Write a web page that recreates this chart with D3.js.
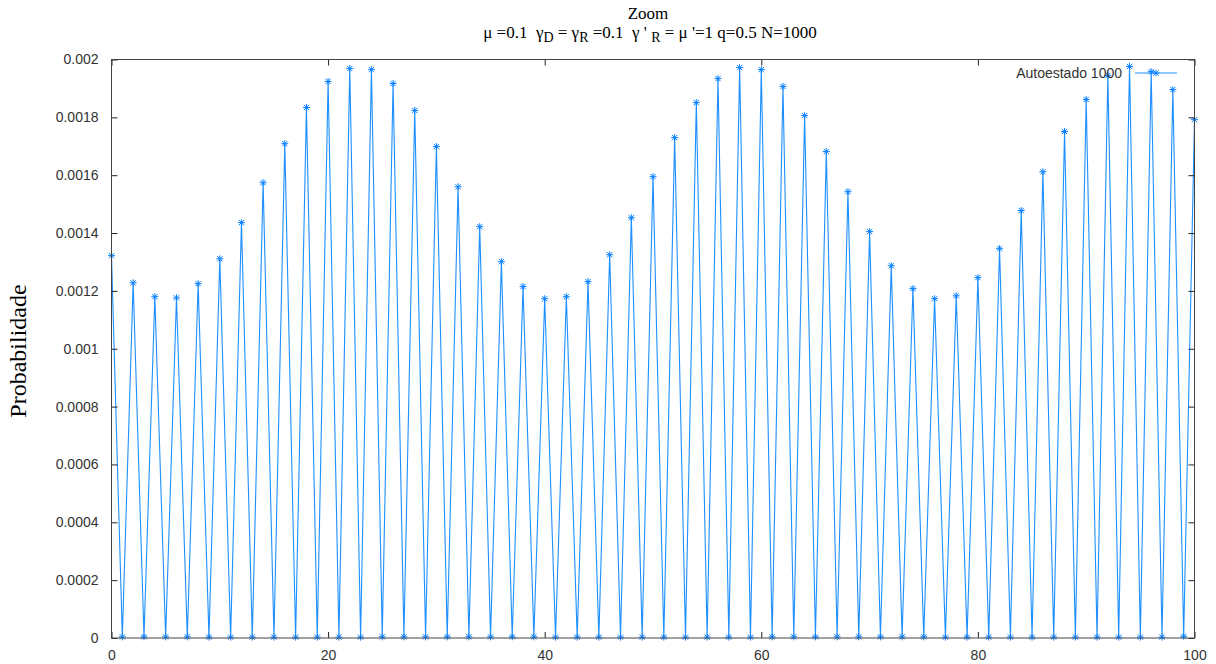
<!DOCTYPE html>
<html>
<head>
<meta charset="utf-8">
<script src="https://cdn.jsdelivr.net/npm/d3@7"></script>
<style>
  html, body { margin: 0; padding: 0; background: #fff; }
  svg { display: block; }
  text { white-space: pre; }
</style>
</head>
<body>
<svg id="chart" width="1216" height="664"></svg>
<script>
// Probability of the 1000th eigenstate over sites 0..100
const sites = d3.range(0, 101);
const evenPeaks = [
  0.001322, 0.001228, 0.001180, 0.001176, 0.001225, 0.001311, 0.001436, 0.001574,
  0.001709, 0.001834, 0.001924, 0.001969, 0.001965, 0.001917, 0.001824, 0.001699,
  0.001560, 0.001422, 0.001301, 0.001215, 0.001173, 0.001180, 0.001232, 0.001325,
  0.001453, 0.001595, 0.001730, 0.001851, 0.001934, 0.001972, 0.001965, 0.001907,
  0.001806, 0.001682, 0.001543, 0.001405, 0.001287, 0.001208, 0.001173, 0.001183,
  0.001246, 0.001346, 0.001478, 0.001612, 0.001751, 0.001862, 0.001945, 0.001976,
  0.001958, 0.001896, 0.001792
];
const oddValues = [
  0.000004, 0.000004, 0.000004, 0.000004, 0.000003, 0.000003, 0.000003, 0.000003,
  0.000003, 0.000003, 0.000003, 0.000003, 0.000004, 0.000004, 0.000004, 0.000004,
  0.000004, 0.000004, 0.000004, 0.000004, 0.000003, 0.000003, 0.000003, 0.000003,
  0.000003, 0.000003, 0.000003, 0.000003, 0.000003, 0.000003, 0.000004, 0.000004,
  0.000004, 0.000004, 0.000004, 0.000004, 0.000004, 0.000004, 0.000003, 0.000003,
  0.000003, 0.000003, 0.000003, 0.000003, 0.000003, 0.000003, 0.000003, 0.000003,
  0.000003, 0.000006
];
const xTicks = [0, 20, 40, 60, 80, 100];
const yTicks = [0, 0.0002, 0.0004, 0.0006, 0.0008, 0.001, 0.0012, 0.0014, 0.0016, 0.0018, 0.002];
const seriesName = "Autoestado 1000";

const probability = sites.map(i => i % 2 === 0 ? evenPeaks[i / 2] : oddValues[(i - 1) / 2]);
const data = sites.map((s, i) => ({ x: s, y: probability[i] }));

const svg = d3.select("#chart");
const plotLeft = 111.5, plotRight = 1194.5, plotTop = 59.5, plotBottom = 638;
const lineColor = "#1e8fff";
const pointColor = "#0a80ff";
const frameColor = "#444";
const labelFont = "'Liberation Sans', Arial, sans-serif";
const serifFont = "'Liberation Serif', 'Times New Roman', serif";

const x = d3.scaleLinear().domain([0, 100]).range([plotLeft, plotRight]);
const y = d3.scaleLinear().domain([0, 0.002]).range([plotBottom, plotTop]);

// Data line
svg.append("path")
  .datum(data)
  .attr("fill", "none")
  .attr("stroke", lineColor)
  .attr("stroke-width", 1.1)
  .attr("d", d3.line().x(d => x(d.x)).y(d => y(d.y)));

// Asterisk markers
function star(g, cx, cy) {
  const r = 3.5, q = r * 0.75;
  g.append("path")
    .attr("d", `M${cx - r},${cy}H${cx + r}M${cx},${cy - r}V${cy + r}` +
               `M${cx - q},${cy - q}L${cx + q},${cy + q}` +
               `M${cx - q},${cy + q}L${cx + q},${cy - q}`)
    .attr("stroke", pointColor)
    .attr("stroke-width", 1)
    .attr("fill", "none");
}
const marks = svg.append("g");
data.forEach(d => star(marks, x(d.x), y(d.y)));

// Axes with inward ticks, mirrored on top/right
const fmt = d => d === 0 ? "0" : String(+d.toPrecision(2));
const xAxis = svg.append("g").attr("transform", `translate(0,${plotBottom})`)
  .call(d3.axisBottom(x).tickValues(xTicks).tickSizeInner(-6).tickSizeOuter(0).tickPadding(12).tickFormat(d => d));
const xAxisTop = svg.append("g").attr("transform", `translate(0,${plotTop})`)
  .call(d3.axisTop(x).tickValues(xTicks).tickSizeInner(-6).tickSizeOuter(0).tickFormat(""));
const yAxis = svg.append("g").attr("transform", `translate(${plotLeft},0)`)
  .call(d3.axisLeft(y).tickValues(yTicks).tickSizeInner(-6).tickSizeOuter(0).tickPadding(13).tickFormat(fmt));
const yAxisRight = svg.append("g").attr("transform", `translate(${plotRight},0)`)
  .call(d3.axisRight(y).tickValues(yTicks).tickSizeInner(-6).tickSizeOuter(0).tickFormat(""));

[xAxis, xAxisTop, yAxis, yAxisRight].forEach(a => {
  a.select(".domain").remove();
  a.selectAll(".tick line").attr("stroke", "#222");
  a.selectAll("text").attr("font-family", labelFont).attr("font-size", 14).attr("fill", "#333");
});

// Plot frame
svg.append("rect")
  .attr("x", plotLeft).attr("y", plotTop)
  .attr("width", plotRight - plotLeft).attr("height", plotBottom - plotTop)
  .attr("fill", "none").attr("stroke", frameColor).attr("stroke-width", 1);

// Title
svg.append("text")
  .attr("x", 648).attr("y", 19)
  .attr("text-anchor", "middle")
  .attr("font-family", serifFont).attr("font-size", 17).attr("fill", "#000")
  .text("Zoom");

const sub = svg.append("text")
  .attr("x", 650).attr("y", 38)
  .attr("text-anchor", "middle")
  .attr("font-family", serifFont).attr("font-size", 17).attr("fill", "#000");
const parts = [
  ["μ =0.1  γ", false], ["D", true], [" = γ", false], ["R", true], [" =0.1  γ ' ", false], ["R", true],
  [" = μ '=1 q=0.5 N=1000", false]
];
let lowered = false;
parts.forEach(([t, isSub]) => {
  const ts = sub.append("tspan").text(t);
  if (isSub) { ts.attr("dy", 4).attr("font-size", 14); lowered = true; }
  else if (lowered) { ts.attr("dy", -4); lowered = false; }
});

// Y label
svg.append("text")
  .attr("transform", "translate(26,351) rotate(-90)")
  .attr("text-anchor", "middle")
  .attr("font-family", serifFont).attr("font-size", 24).attr("fill", "#000")
  .text("Probabilidade");

// Legend
svg.append("text")
  .attr("x", 1122).attr("y", 78)
  .attr("text-anchor", "end")
  .attr("font-family", labelFont).attr("font-size", 14).attr("fill", "#333")
  .text(seriesName);
svg.append("line")
  .attr("x1", 1135).attr("x2", 1177).attr("y1", 73).attr("y2", 73)
  .attr("stroke", lineColor).attr("stroke-width", 1);
star(svg, 1156, 73);
</script>
</body>
</html>
